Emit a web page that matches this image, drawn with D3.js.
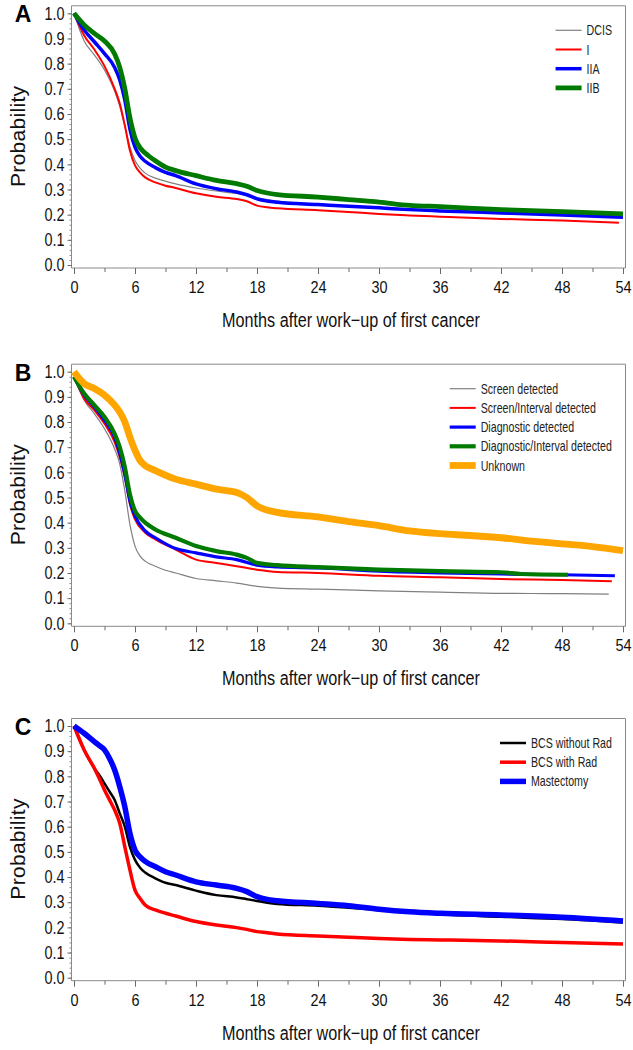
<!DOCTYPE html>
<html><head><meta charset="utf-8">
<script src="https://cdn.jsdelivr.net/npm/d3@7"></script>
<style>body{margin:0;background:#fff}svg{display:block}</style>
</head><body><svg id="c" width="633" height="1050"></svg>
<script>
// ---------- data ----------
const xTicks = [0,6,12,18,24,30,36,42,48,54];
const yTicks = [0,0.1,0.2,0.3,0.4,0.5,0.6,0.7,0.8,0.9,1.0];
const yTickLabels = ["0.0","0.1","0.2","0.3","0.4","0.5","0.6","0.7","0.8","0.9","1.0"];
const panelLetters = ["A","B","C"];
const xTitle = "Months after work\u2212up of first cancer";
const yTitle = "Probability";

// Panel A
const labelsA = ["DCIS","I","IIA","IIB"];
const colorsA = ["#808080","#ff0000","#0000ff","#007a00"];
const widthsA = [1.2,2,3.5,4.8];
const monthsA = [0,1,2,3,4,4.5,5,5.5,6,6.5,7,8,9,10,12,14,16,17,18,19,20,24,27,30,33,36,42,48,54];
const monthsA_I = [0,1,2,3,4,4.5,5,5.5,6,6.5,7,8,9,10,12,14,16,17,18,19,20,24,27,30,33,36,42,48,53.6];
const survA_DCIS = [1.0,0.89,0.835,0.775,0.69,0.63,0.55,0.47,0.415,0.385,0.365,0.345,0.333,0.322,0.306,0.294,0.284,0.277,0.268,0.26,0.254,0.242,0.235,0.229,0.222,0.215,0.206,0.197,0.19];
const survA_I    = [1.0,0.912,0.856,0.79,0.7,0.642,0.555,0.455,0.396,0.367,0.348,0.328,0.315,0.306,0.285,0.271,0.262,0.253,0.236,0.229,0.225,0.218,0.211,0.203,0.197,0.192,0.183,0.177,0.168];
const survA_IIA  = [1.0,0.934,0.887,0.84,0.785,0.735,0.655,0.54,0.468,0.432,0.412,0.387,0.368,0.355,0.322,0.303,0.29,0.279,0.263,0.254,0.249,0.24,0.233,0.227,0.22,0.215,0.207,0.199,0.19];
const survA_IIB  = [1.0,0.954,0.92,0.89,0.838,0.785,0.7,0.585,0.505,0.465,0.445,0.414,0.389,0.375,0.355,0.336,0.323,0.313,0.296,0.286,0.28,0.27,0.26,0.25,0.237,0.232,0.22,0.212,0.203];

// Panel B
const labelsB = ["Screen detected","Screen/Interval detected","Diagnostic detected","Diagnostic/Interval detected","Unknown"];
const colorsB = ["#808080","#ff0000","#0000ff","#007a00","#ffa500"];
const widthsB = [1.2,2,3.2,4.2,6.8];
const monthsB_Scr = [0,1,2,3,4,4.5,5,5.5,6,6.5,7,8,9,10,12,14,16,18,20,24,30,36,42,48,52.6];
const survB_Scr   = [0.98,0.887,0.833,0.773,0.693,0.633,0.527,0.393,0.307,0.267,0.247,0.227,0.211,0.2,0.178,0.169,0.16,0.147,0.14,0.136,0.129,0.124,0.119,0.118,0.116];
const monthsB_SI  = [0,1,2,3,4,5,5.5,6,7,8,10,12,14,16,18,20,24,30,36,42,48,52.9];
const survB_SI    = [0.98,0.893,0.847,0.793,0.72,0.58,0.473,0.413,0.36,0.333,0.293,0.253,0.24,0.227,0.213,0.204,0.2,0.189,0.183,0.176,0.172,0.167];
const monthsB_Dia = [0,1,2,3,4,5,5.5,6,7,8,10,12,14,16,18,20,24,30,36,42,48,53.2];
const survB_Dia   = [0.98,0.907,0.86,0.807,0.74,0.593,0.487,0.427,0.367,0.34,0.297,0.28,0.264,0.253,0.231,0.224,0.22,0.207,0.2,0.196,0.193,0.189];
const monthsB_DI  = [0,1,2,3,4,4.5,5,5.5,6,6.5,7,8,10,12,14,16,17,18,20,24,30,36,42,44,48.6];
const survB_DI    = [0.98,0.913,0.867,0.82,0.753,0.7,0.62,0.513,0.447,0.42,0.4,0.373,0.34,0.307,0.287,0.273,0.26,0.24,0.231,0.223,0.213,0.207,0.203,0.196,0.193];
const monthsB_Unk = [0,1,2,3,4,4.5,5,5.5,6,6.5,7,8,10,12,14,16,17,18,20,24,27,30,33,36,39,42,45,48,51,54];
const survB_Unk   = [1.0,0.953,0.933,0.907,0.867,0.84,0.8,0.74,0.687,0.647,0.627,0.607,0.573,0.553,0.533,0.52,0.5,0.467,0.441,0.423,0.404,0.388,0.367,0.356,0.349,0.34,0.327,0.316,0.305,0.289];

// Panel C
const labelsC = ["BCS without Rad","BCS with Rad","Mastectomy"];
const colorsC = ["#000000","#ff0000","#0000ff"];
const widthsC = [2.5,3.5,5.5];
const monthsC = [0,1,2,2.5,3,3.5,4,4.5,5,5.5,6,6.5,7,8,9,10,12,14,16,17,18,19,20,24,27,30,33,36,42,48,54];
const survC_NoRad = [1.0,0.905,0.832,0.805,0.772,0.739,0.706,0.653,0.6,0.52,0.468,0.437,0.418,0.395,0.377,0.368,0.346,0.328,0.319,0.312,0.305,0.298,0.293,0.286,0.278,0.269,0.26,0.252,0.242,0.233,0.219];
const survC_Rad   = [1.0,0.905,0.832,0.79,0.746,0.706,0.666,0.613,0.52,0.428,0.348,0.315,0.289,0.269,0.256,0.245,0.223,0.209,0.199,0.192,0.183,0.179,0.174,0.166,0.161,0.156,0.152,0.15,0.146,0.14,0.134];
const survC_Mast  = [1.0,0.971,0.938,0.922,0.905,0.871,0.825,0.759,0.679,0.574,0.507,0.48,0.462,0.441,0.421,0.408,0.381,0.368,0.355,0.342,0.322,0.311,0.306,0.295,0.286,0.272,0.262,0.256,0.249,0.24,0.225];

const panelSeries = [
  {labels:labelsA, colors:colorsA, widths:widthsA,
   data:[[monthsA,survA_DCIS],[monthsA_I,survA_I],[monthsA,survA_IIA],[monthsA,survA_IIB]]},
  {labels:labelsB, colors:colorsB, widths:widthsB,
   data:[[monthsB_Scr,survB_Scr],[monthsB_SI,survB_SI],[monthsB_Dia,survB_Dia],[monthsB_DI,survB_DI],[monthsB_Unk,survB_Unk]]},
  {labels:labelsC, colors:colorsC, widths:widthsC,
   data:[[monthsC,survC_NoRad],[monthsC,survC_Rad],[monthsC,survC_Mast]]}
];

// ---------- layout ----------
const FONT = "'Liberation Sans', Arial, Helvetica, sans-serif";
const y1s = [13.3, 371.7, 726];
const y0s = [265, 623.3, 977.7];
const xLeft = 74, xRight = 623;
const frameL = 71.5, frameR = 625.5;
const svg = d3.select("#c");
const x = d3.scaleLinear().domain([0,54]).range([xLeft,xRight]);

function condense(sel, f){
  sel.each(function(){
    const n = this.getComputedTextLength();
    d3.select(this).attr("textLength", n*f).attr("lengthAdjust","spacingAndGlyphs");
  });
}

panelSeries.forEach((p,i)=>{
  const y = d3.scaleLinear().domain([0,1]).range([y0s[i], y1s[i]]);
  const g = svg.append("g");
  const top = y1s[i]-7.5, bot = y0s[i]+3;

  // frame
  g.append("path")
    .attr("d", `M${frameL},${top}H${frameR}V${bot}`)
    .attr("fill","none").attr("stroke","#8a8a8a").attr("stroke-width",1);

  // y axis minor ticks (dotted look)
  const yMinor = d3.axisLeft(y).tickValues(d3.range(0,51).map(k=>k*0.02)).tickSize(2).tickFormat("");
  const gym = g.append("g").attr("transform",`translate(${frameL},0)`).call(yMinor);
  gym.select(".domain").attr("stroke","#8a8a8a").attr("d",`M0,${top}V${bot}`);
  gym.selectAll(".tick line").attr("stroke","#8a8a8a");

  // y axis major
  const yAx = d3.axisLeft(y).tickValues(yTicks).tickSize(4).tickPadding(3)
      .tickFormat((d,k)=>yTickLabels[k]);
  const gy = g.append("g").attr("transform",`translate(${frameL},0)`).call(yAx);
  gy.select(".domain").remove();
  gy.selectAll(".tick line").attr("stroke","#6a6a6a");
  gy.selectAll(".tick text").attr("font-family",FONT).attr("font-size",18).attr("fill","#111")
    .call(condense,0.8);

  // x axis minor
  const xMinor = d3.axisBottom(x).tickValues(d3.range(3,54,6)).tickSize(4).tickFormat("");
  const gxm = g.append("g").attr("transform",`translate(0,${bot})`).call(xMinor);
  gxm.select(".domain").attr("stroke","#8a8a8a").attr("d",`M${frameL},0H${frameR}`);
  gxm.selectAll(".tick line").attr("stroke","#6a6a6a");

  // x axis major
  const xAx = d3.axisBottom(x).tickValues(xTicks).tickSize(6).tickPadding(7).tickFormat(d3.format("d"));
  const gx = g.append("g").attr("transform",`translate(0,${bot})`).call(xAx);
  gx.select(".domain").remove();
  gx.selectAll(".tick line").attr("stroke","#6a6a6a");
  gx.selectAll(".tick text").attr("font-family",FONT).attr("font-size",17).attr("fill","#111")
    .call(condense,0.85);

  // titles
  g.append("text").attr("x",351).attr("y",bot+59).attr("text-anchor","middle")
    .attr("font-family",FONT).attr("font-size",20).attr("fill","#111").text(xTitle).call(condense,0.81);
  g.append("text").attr("transform",`translate(25,${y1s[i]+123}) rotate(-90)`).attr("text-anchor","middle")
    .attr("font-family",FONT).attr("font-size",21).attr("fill","#111").attr("letter-spacing",0.3).text(yTitle);
  g.append("text").attr("x",23).attr("y",y1s[i]+9).attr("text-anchor","middle")
    .attr("font-family",FONT).attr("font-size",23).attr("font-weight","bold").attr("fill","#000").text(panelLetters[i]);

  // curves
  const line = d3.line().x(d=>x(d[0])).y(d=>y(d[1])).curve(d3.curveMonotoneX);
  p.data.forEach((s,k)=>{
    const pts = s[0].map((m,j)=>[m, s[1][j]]);
    g.append("path").attr("d",line(pts)).attr("fill","none")
      .attr("stroke",p.colors[k]).attr("stroke-width",p.widths[k]).attr("stroke-linejoin","round");
  });

  // legend: condensed with a horizontal scale transform
  const sx = 0.76;
  const legRight = 612, rowH = 19.2, firstRow = top + 24.5;
  const lg = g.append("g");
  const texts = p.labels.map((lab,k)=>lg.append("text")
      .attr("font-family",FONT).attr("font-size",14).attr("fill","#222").text(lab));
  const maxW = d3.max(texts, t=>t.node().getComputedTextLength())*sx;
  const tx = legRight - maxW;
  texts.forEach((t,k)=>t.attr("transform",`translate(${tx},${firstRow+rowH*k+5}) scale(${sx},1)`));
  p.labels.forEach((lab,k)=>{
    lg.append("line").attr("x1",tx-31).attr("x2",tx-5)
      .attr("y1",firstRow+rowH*k).attr("y2",firstRow+rowH*k)
      .attr("stroke",p.colors[k]).attr("stroke-width",p.widths[k]);
  });
});
</script></body></html>
